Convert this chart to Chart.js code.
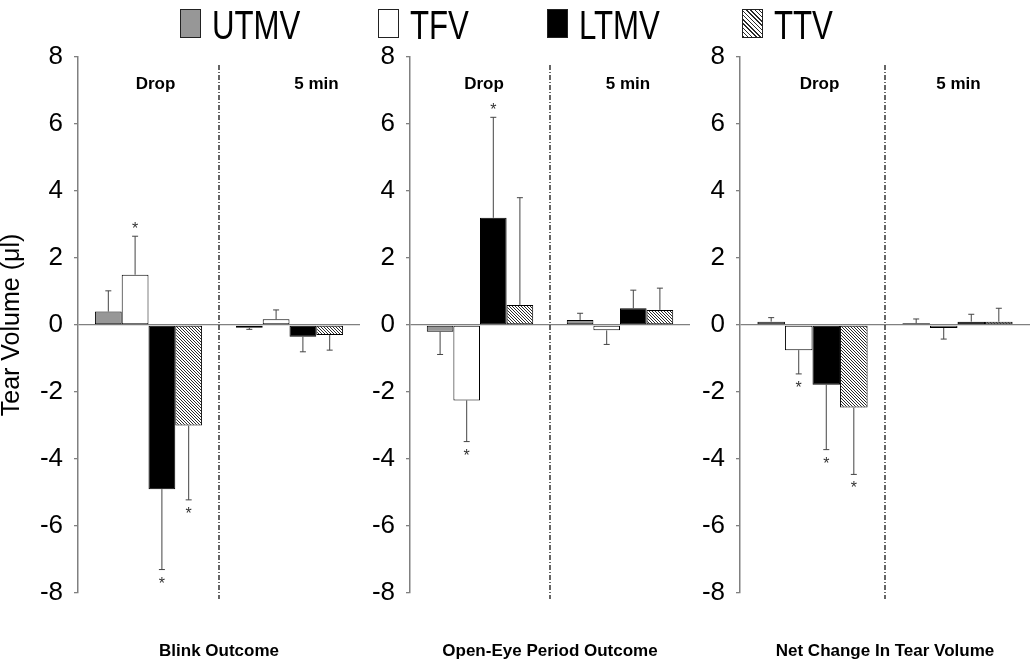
<!DOCTYPE html>
<html>
<head>
<meta charset="utf-8">
<script src="https://cdn.jsdelivr.net/npm/chart.js@4"></script>
<style>
    body { margin: 0; background: #fff; }
    #wrap { position: relative; width: 1035px; height: 662px; overflow: hidden; }
    canvas { position: absolute; top: 0; }
    .lg { position: absolute; top: 0; height: 45px; }
    .sw { position: absolute; top: 9px; left: 0; width: 19px; height: 27px; border: 1px solid #222; }
    .tx { position: absolute; top: 5px; font: 40px/40px "Liberation Sans", Arial, sans-serif; color: #000;
          white-space: nowrap; transform: scaleX(0.78); transform-origin: 0 0; }
</style>
</head>
<body>
<div id="wrap">
    <canvas id="blink" width="362" height="662" style="left:0px"></canvas>
    <canvas id="openEye" width="330" height="662" style="left:362px"></canvas>
    <canvas id="netChange" width="343" height="662" style="left:692px"></canvas>
</div>
<script>
// categories and series
const categories = ["Drop", "5 min"];
const seriesNames = ["UTMV", "TFV", "LTMV", "TTV"];
const yMin = -8, yMax = 8, yStep = 2;

// rows = UTMV, TFV, LTMV, TTV ; columns = Drop, 5 min
const blinkMean = [[0.4, -0.08], [1.5, 0.17], [-4.9, -0.35], [-3.0, -0.3]];
const blinkErr  = [[0.62, 0.05], [1.15, 0.28], [2.4, 0.45], [2.22, 0.45]];
const blinkStar = [[0, 0], [1, 0], [1, 0], [1, 0]];

const openEyeMean = [[-0.2, 0.15], [-2.25, -0.16], [3.2, 0.5], [0.6, 0.45]];
const openEyeErr  = [[0.68, 0.2], [1.23, 0.42], [3.0, 0.54], [3.2, 0.65]];
const openEyeStar = [[0, 0], [1, 0], [1, 0], [0, 0]];

const netMean = [[0.1, 0.05], [-0.75, -0.09], [-1.78, 0.1], [-2.46, 0.1]];
const netErr  = [[0.12, 0.13], [0.71, 0.33], [1.94, 0.22], [2.0, 0.4]];
const netStar = [[0, 0], [1, 0], [1, 0], [1, 0]];

const legendX = [180, 378, 547, 742];

Chart.defaults.font.family = '"Liberation Sans", Arial, sans-serif';
Chart.defaults.color = "#000";

function hatchPattern(ctx) {
    const c = document.createElement("canvas");
    c.width = 3; c.height = 3;
    const g = c.getContext("2d");
    g.fillStyle = "#fff";
    g.fillRect(0, 0, 3, 3);
    g.fillStyle = "#2a2a2a";
    for (let i = 0; i < 3; i++) g.fillRect(i, i, 1, 1);
    return ctx.createPattern(c, "repeat");
}

function fills(ctx) {
    return ["#979797", "#ffffff", "#000000", hatchPattern(ctx)];
}

// error bars, stars, divider, group labels and panel title
function makeExtras(err, star, title, labelShift) {
    return {
        id: "extras",
        afterDatasetsDraw(chart) {
            const { ctx, chartArea, scales: { x, y } } = chart;
            ctx.save();

            // dash-dot divider between the two groups
            const xd = (x.getPixelForValue(0) + x.getPixelForValue(1)) / 2;
            ctx.strokeStyle = "#000";
            ctx.lineWidth = 1.2;
            ctx.setLineDash([5, 2, 1, 2]);
            ctx.beginPath();
            ctx.moveTo(xd, chartArea.top + 8);
            ctx.lineTo(xd, chartArea.bottom + 6);
            ctx.stroke();
            ctx.setLineDash([]);

            chart.data.datasets.forEach((ds, i) => {
                const meta = chart.getDatasetMeta(i);
                meta.data.forEach((bar, j) => {
                    const v = ds.data[j];
                    const dir = v < 0 ? -1 : 1;
                    const y0 = y.getPixelForValue(v);
                    const y1 = y.getPixelForValue(v + dir * err[i][j]);
                    ctx.strokeStyle = "#444";
                    ctx.lineWidth = 1;
                    ctx.beginPath();
                    ctx.moveTo(bar.x, y0);
                    ctx.lineTo(bar.x, y1);
                    ctx.moveTo(bar.x - 3, y1);
                    ctx.lineTo(bar.x + 3, y1);
                    ctx.stroke();
                    if (star[i][j]) {
                        ctx.fillStyle = "#333";
                        ctx.font = "16px 'Liberation Sans', Arial";
                        ctx.textAlign = "center";
                        ctx.textBaseline = "alphabetic";
                        ctx.fillText("*", bar.x, dir > 0 ? y1 - 2 : y1 + 19);
                    }
                });
            });

            ctx.fillStyle = "#000";
            ctx.font = "bold 17px 'Liberation Sans', Arial";
            ctx.textAlign = "center";
            ctx.textBaseline = "middle";
            categories.forEach((c, j) => {
                ctx.fillText(c, x.getPixelForValue(j) + labelShift[j], 84);
            });
            ctx.fillText(title, (chartArea.left + chartArea.right) / 2, 651);
            ctx.restore();
        }
    };
}

function createPanel(id, mean, err, star, title, yWidth, padRight, labelShift, showTitle) {
    const canvas = document.getElementById(id);
    const ctx = canvas.getContext("2d");
    const colors = fills(ctx);

    const datasets = seriesNames.map((name, i) => ({
        label: name,
        data: mean[i],
        backgroundColor: colors[i],
        borderColor: "#000",
        borderWidth: 1,
        borderSkipped: false,
        barPercentage: 1,
        categoryPercentage: 0.76,
    }));

    return new Chart(ctx, {
        type: "bar",
        data: { labels: categories, datasets: datasets },
        options: {
            responsive: false,
            animation: false,
            layout: { padding: { top: 57, bottom: 69, left: 0, right: padRight } },
            plugins: { legend: { display: false }, tooltip: { enabled: false } },
            scales: {
                x: { display: false },
                y: {
                    min: yMin,
                    max: yMax,
                    ticks: { stepSize: yStep, padding: 11, font: { size: 26 }, color: "#000" },
                    grid: {
                        color: (c) => (c.tick && c.tick.value === 0 ? "#808080" : "rgba(0,0,0,0)"),
                        tickColor: "#808080",
                        tickLength: 4,
                        lineWidth: 1.3,
                    },
                    border: { display: true, color: "#808080", width: 1.5 },
                    title: {
                        display: showTitle,
                        text: "Tear Volume (μl)",
                        font: { size: 25, lineHeight: 1 },
                        padding: 0,
                        color: "#000",
                    },
                    afterFit: (s) => { s.width = yWidth; },
                },
            },
        },
        plugins: [makeExtras(err, star, title, labelShift)],
    });
}

createPanel("blink", blinkMean, blinkErr, blinkStar, "Blink Outcome", 78, 2, [7, 27], true);
createPanel("openEye", openEyeMean, openEyeErr, openEyeStar, "Open-Eye Period Outcome", 48, 2, [4, 8], false);
createPanel("netChange", netMean, netErr, netStar, "Net Change In Tear Volume", 48, 5, [7, 1], false);

// legend across the top
const swatches = ["#979797", "#ffffff", "#000000",
    "repeating-linear-gradient(45deg, #2a2a2a 0 1px, #fff 1px 3px)"];
const wrap = document.getElementById("wrap");
seriesNames.forEach((name, i) => {
    const item = document.createElement("div");
    item.className = "lg";
    item.style.left = legendX[i] + "px";
    item.innerHTML = '<span class="sw" style="background:' + swatches[i] + '"></span>' +
        '<span class="tx" style="left:32px">' + name + "</span>";
    wrap.appendChild(item);
});
</script>
</body>
</html>
